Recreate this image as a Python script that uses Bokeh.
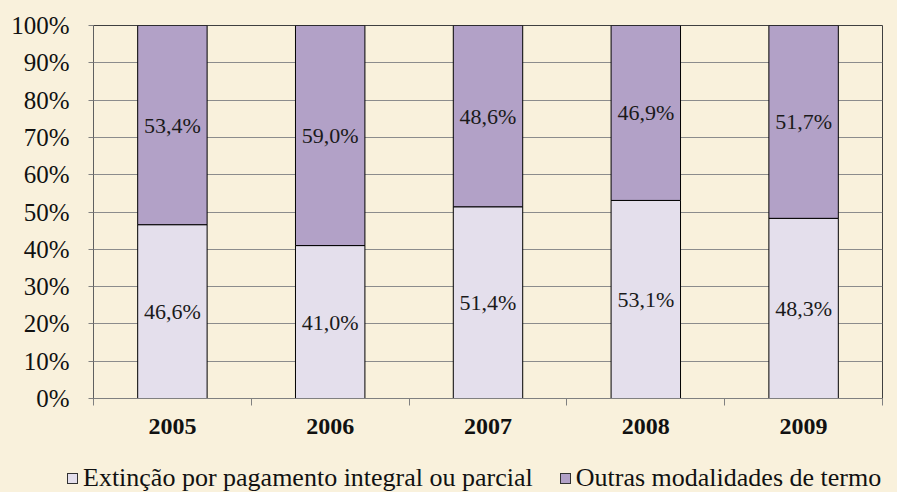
from bokeh.plotting import figure
from bokeh.layouts import column
from bokeh.models import (FixedTicker, ColumnDataSource, Range1d, Div)
from bokeh.embed import file_html
from bokeh.resources import INLINE
from bokeh.core.properties import value

# ---- data ----
years = ["2005", "2006", "2007", "2008", "2009"]
extincao = [46.6, 41.0, 51.4, 53.1, 48.3]
outras = [53.4, 59.0, 48.6, 46.9, 51.7]
y_ticks = [0, 10, 20, 30, 40, 50, 60, 70, 80, 90, 100]
series_names = ["Extinção por pagamento integral ou parcial", "Outras modalidades de termo"]

BG = "#F9F1DC"
C_BOTTOM = "#E4DFEC"
C_TOP = "#B2A1C7"
COLORS = [C_BOTTOM, C_TOP]
FONT = "Liberation Serif"

n = len(years)
xc = [i + 0.5 for i in range(n)]

src = ColumnDataSource(dict(
    x=xc,
    ext=extincao,
    out=outras,
    ext_mid=[v / 2 for v in extincao],
    out_mid=[a + b / 2 for a, b in zip(extincao, outras)],
    ext_lbl=[f"{v:.1f}%".replace(".", ",") for v in extincao],
    out_lbl=[f"{v:.1f}%".replace(".", ",") for v in outras],
))

p = figure(width=897, height=447, output_backend="svg", toolbar_location=None,
           x_range=Range1d(0, n), y_range=Range1d(0, 100),
           min_border_left=93, min_border_right=15, min_border_top=25, min_border_bottom=49,
           background_fill_color=BG, border_fill_color=BG)

p.outline_line_color = "#404040"
p.outline_line_width = 1

rs = p.vbar_stack(["ext", "out"], x="x", width=0.44, source=src,
                  color=COLORS, line_color="black", line_width=1)

p.text(x="x", y="ext_mid", text="ext_lbl", source=src, text_align="center",
       text_baseline="middle", text_font=value(FONT), text_font_size="22px",
       text_color="#1a1a1a")
p.text(x="x", y="out_mid", text="out_lbl", source=src, text_align="center",
       text_baseline="middle", text_font=value(FONT), text_font_size="22px",
       text_color="#1a1a1a")

# y axis
p.yaxis.ticker = FixedTicker(ticks=y_ticks)
p.yaxis.major_label_overrides = {t: f"{t}%" for t in y_ticks}
p.yaxis.major_label_text_font = FONT
p.yaxis.major_label_text_font_size = "25px"
p.yaxis.major_label_text_color = "#111111"
p.yaxis.major_tick_out = 5
p.yaxis.major_tick_in = 0
p.yaxis.minor_tick_out = 0
p.yaxis.major_label_standoff = 19
p.yaxis.axis_line_color = "#606060"
p.yaxis.major_tick_line_color = "#808080"

# x axis
p.xaxis.ticker = FixedTicker(ticks=xc, minor_ticks=list(range(n + 1)))
p.xaxis.major_label_overrides = {x: y for x, y in zip(xc, years)}
p.xaxis.major_label_text_font = FONT
p.xaxis.major_label_text_font_size = "24px"
p.xaxis.major_label_text_font_style = "bold"
p.xaxis.major_label_text_color = "#111111"
p.xaxis.major_tick_out = 0
p.xaxis.major_tick_in = 0
p.xaxis.minor_tick_out = 7
p.xaxis.minor_tick_in = 0
p.xaxis.minor_tick_line_color = "#808080"
p.xaxis.major_label_standoff = 13
p.xaxis.axis_line_color = "#808080"

p.xgrid.grid_line_color = None
p.ygrid.ticker = FixedTicker(ticks=y_ticks)
p.ygrid.grid_line_color = "#8C8C8C"
p.ygrid.grid_line_width = 1

# legend strip below the chart
swatch = ("<span style=\"display:inline-block;width:11px;height:11px;background:{c};"
          "border:1px solid #333333;margin-right:5px;vertical-align:middle;"
          "position:relative;top:-2px;\"></span>")
gap = "<span style=\"display:inline-block;width:27px;\"></span>"
items = [swatch.format(c=COLORS[i]) + series_names[i] for i in range(len(series_names))]
legend_html = ("<div style=\"font-family:'Liberation Serif';font-size:26px;color:#111111;"
               "white-space:nowrap;padding-left:67px;padding-top:16px;line-height:30px;\">"
               + gap.join(items) + "</div>")
leg = Div(text=legend_html, width=897, height=45,
          styles={"background-color": BG, "margin": "0", "padding": "0"})

html = file_html(column(p, leg, spacing=0, styles={"background-color": BG}), INLINE)
open("out.html", "w").write(html)
